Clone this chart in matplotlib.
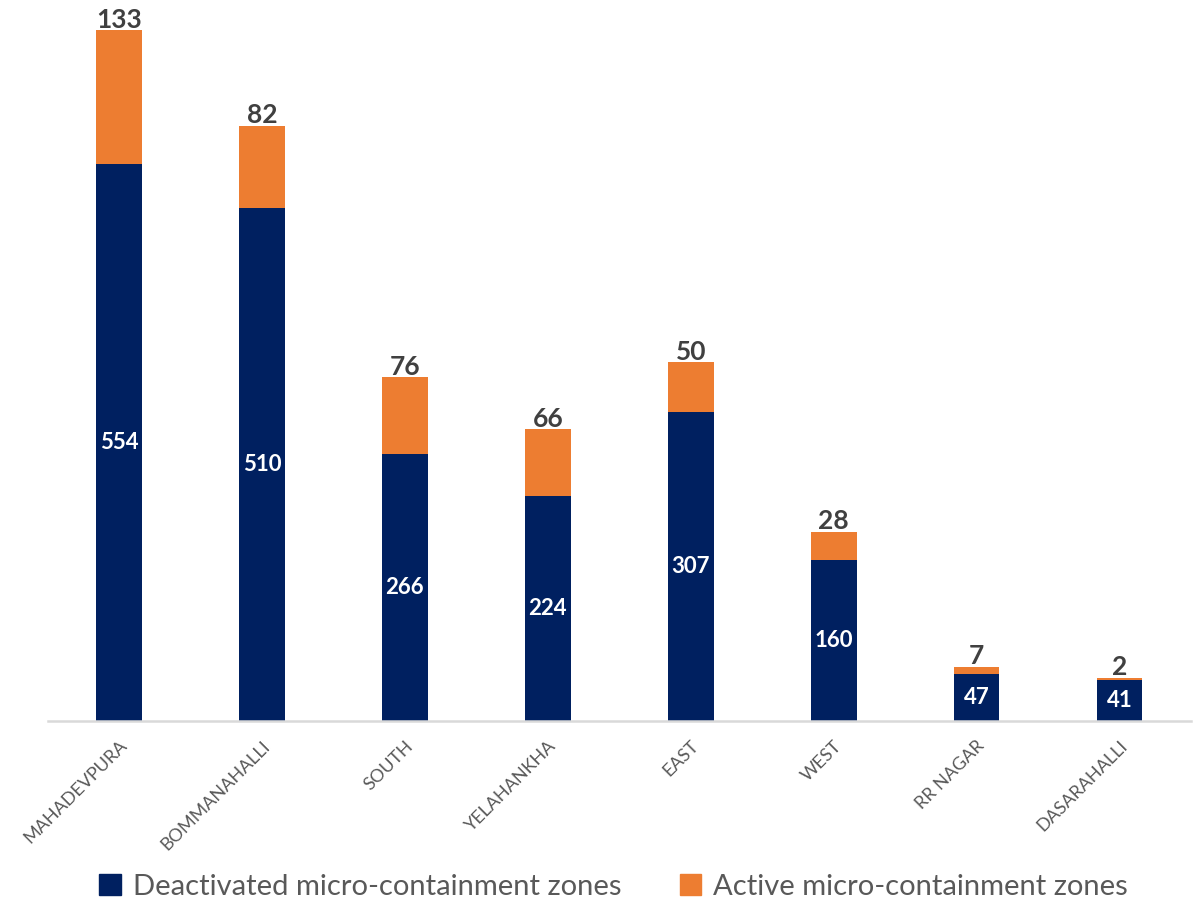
import matplotlib
matplotlib.use("Agg")
import matplotlib.pyplot as plt
from matplotlib.patches import Patch

plt.rcParams['font.family'] = ['Lato', 'DejaVu Sans']

categories = ["MAHADEVPURA", "BOMMANAHALLI", "SOUTH", "YELAHANKHA", "EAST", "WEST", "RR NAGAR", "DASARAHALLI"]
deactivated = [554, 510, 266, 224, 307, 160, 47, 41]
active = [133, 82, 76, 66, 50, 28, 7, 2]

navy = "#002060"
orange = "#ED7D31"
gray_text = "#595959"

fig = plt.figure(figsize=(12.03, 9.02), dpi=100)
ax = fig.add_axes([0.0395, 0.2007, 0.9505, 0.78])

x = list(range(len(categories)))
w = 0.32
ax.bar(x, deactivated, width=w, color=navy, zorder=2)
ax.bar(x, active, width=w, bottom=deactivated, color=orange, zorder=2)

ax.set_xlim(-0.5, len(categories) - 0.5)
ax.set_ylim(0, 700)

for xi, d, a in zip(x, deactivated, active):
    ax.text(xi, d / 2, str(d), ha='center', va='center', color='white',
            fontsize=16, fontweight='bold', zorder=3)
    ax.annotate(str(a), xy=(xi, d + a), xytext=(0, -1), textcoords='offset points',
                ha='center', va='bottom', color='#404040', fontsize=19,
                fontweight='bold', annotation_clip=False, zorder=3)

for s in ['top', 'right', 'left']:
    ax.spines[s].set_visible(False)
ax.spines['bottom'].set_color('#d9d9d9')
ax.spines['bottom'].set_linewidth(1.8)
ax.set_yticks([])
ax.set_xticks(x)
ax.set_xticklabels(categories, rotation=45, ha='right', rotation_mode='anchor',
                   fontsize=13, color=gray_text)
ax.tick_params(axis='x', length=0, pad=12)

handles = [Patch(color=navy, label="Deactivated micro-containment zones"),
           Patch(color=orange, label="Active micro-containment zones")]
fig.legend(handles=handles, loc='center', bbox_to_anchor=(0.51, 0.017), ncol=2,
           frameon=False, fontsize=21, labelcolor=gray_text, handlelength=0.75,
           handleheight=0.75, handletextpad=0.4, columnspacing=2.0)

fig.savefig("out.png", dpi=100)
